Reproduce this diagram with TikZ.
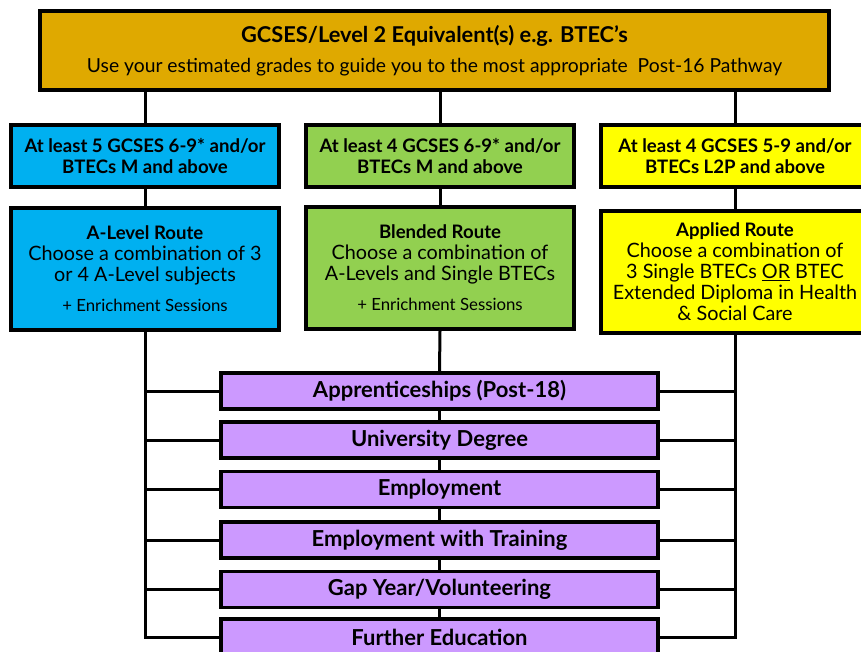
\documentclass[tikz,border=0pt]{standalone}
\usepackage{fontspec}
\setmainfont{Lato}
\definecolor{gold}{RGB}{223,169,0}
\definecolor{cblue}{RGB}{0,176,240}
\definecolor{cgreen}{RGB}{146,208,80}
\definecolor{cyellow}{RGB}{255,255,0}
\definecolor{cpurple}{RGB}{204,153,255}
\begin{document}
\begin{tikzpicture}[x=1pt,y=-1pt,
  box/.style={draw=black,line width=3.5pt,inner sep=0pt,align=center},
  crit/.style={box,minimum width=268pt,minimum height=62pt,font=\fontsize{18.6}{21}\selectfont\bfseries},
  route/.style={box,minimum width=268pt,minimum height=122pt,font=\fontsize{19.8}{21}\selectfont},
  dest/.style={box,fill=cpurple,minimum width=437pt,minimum height=36pt,font=\fontsize{22}{24}\selectfont\bfseries},
  conn/.style={line width=3pt}]
\useasboundingbox (0,0) rectangle (861,652);
\clip (0,0) rectangle (861,652);
% top
\node[box,fill=gold,minimum width=789pt,minimum height=79pt,font=\fontsize{19.3}{22}\selectfont] (top) at (434.5,50.5)
  {{\fontsize{21.8}{24}\selectfont\bfseries GCSES/Level 2 Equivalent(s) e.g. BTEC’s}\\[8pt]
   Use your estimated grades to guide you to the most appropriate\ \ Post-16 Pathway};
% criteria row
\node[crit,fill=cblue] (c1) at (145,156) {At least 5 GCSES 6-9* and/or\\BTECs M and above};
\node[crit,fill=cgreen] (c2) at (440,156) {At least 4 GCSES 6-9* and/or\\BTECs M and above};
\node[crit,fill=cyellow] (c3) at (735,156) {At least 4 GCSES 5-9 and/or\\BTECs L2P and above};
% route row
\node[route,fill=cblue] (r1) at (145,269) {{\fontsize{18.6}{21}\selectfont\bfseries A-Level Route}\\Choose a combination of 3\\or 4 A-Level subjects\\[9pt]{\fontsize{16.8}{21}\selectfont + Enrichment Sessions}};
\node[route,fill=cgreen] (r2) at (440,268) {{\fontsize{18.6}{21}\selectfont\bfseries Blended Route}\\Choose a combination of\\A-Levels and Single BTECs\\[9pt]{\fontsize{16.8}{21}\selectfont + Enrichment Sessions}};
\node[route,fill=cyellow] (r3) at (735,272) {{\fontsize{18.6}{21}\selectfont\bfseries Applied Route}\\Choose a combination of\\3 Single BTECs \underline{OR} BTEC\\Extended Diploma in Health\\\& Social Care};
% destinations
\node[dest] (p1) at (439.5,391) {Apprenticeships (Post-18)};
\node[dest] (p2) at (439.5,440) {University Degree};
\node[dest] (p3) at (439.5,489.5) {Employment};
\node[dest] (p4) at (439.5,540) {Employment with Training};
\node[dest] (p5) at (439.5,589.5) {Gap Year/Volunteering};
\node[dest] (p6) at (439.5,637) {Further Education};
% connectors
\foreach \c in {c1,c2,c3}{
  \draw[conn] (top.south -| \c.north) -- (\c.north);
}
\draw[conn] (c1.south) -- (r1.north);
\draw[conn] (c2.south) -- (r2.north);
\draw[conn] (c3.south) -- (r3.north);
\draw[conn] (r2.south) -- (p1.north);
\draw[conn] (p1.south) -- (p2.north);
\draw[conn] (p2.south) -- (p3.north);
\draw[conn] (p3.south) -- (p4.north);
\draw[conn] (p4.south) -- (p5.north);
\draw[conn] (p5.south) -- (p6.north);
\draw[conn] (r1.south) -- (r1.south |- p6.west) -- (p6.west);
\draw[conn] (r3.south) -- (r3.south |- p6.east) -- (p6.east);
\foreach \p in {p1,p2,p3,p4,p5}{
  \draw[conn] (r1.south |- \p.west) -- (\p.west);
  \draw[conn] (r3.south |- \p.east) -- (\p.east);
}
\end{tikzpicture}
\end{document}
